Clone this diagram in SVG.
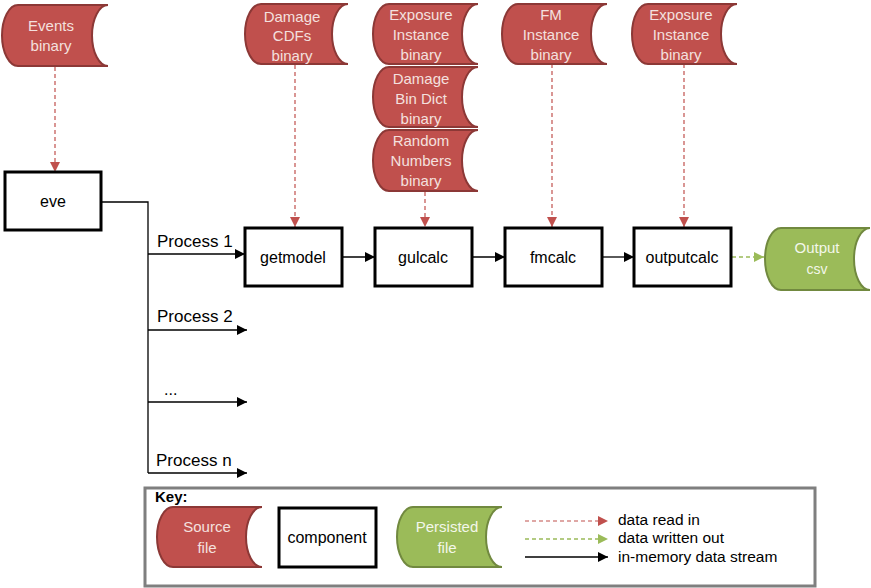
<svg xmlns="http://www.w3.org/2000/svg" width="871" height="588" viewBox="0 0 871 588">
<defs>
<style>
.src{fill:#C0504D;stroke:#8C3836;stroke-width:2}
.per{fill:#9BBB59;stroke:#71893F;stroke-width:2}
.box{fill:#fff;stroke:#000;stroke-width:3}
.st{font-family:"Liberation Sans",Arial,sans-serif;font-size:15px;fill:#F4E0DF;text-anchor:middle}
.gt{font-family:"Liberation Sans",Arial,sans-serif;font-size:15px;fill:#F3F7EA;text-anchor:middle}
.bt{font-family:"Liberation Sans",Arial,sans-serif;font-size:16px;fill:#000;text-anchor:middle}
.lb{font-family:"Liberation Sans",Arial,sans-serif;font-size:17px;fill:#000}
.kt{font-family:"Liberation Sans",Arial,sans-serif;font-size:15.5px;fill:#000}
.rd{stroke:#C0504D;stroke-width:1.2;stroke-dasharray:4,3;fill:none;marker-end:url(#ar)}
.gd{stroke:#9BBB59;stroke-width:1.5;stroke-dasharray:4,3;fill:none;marker-end:url(#ag)}
.bl{stroke:#000;stroke-width:1.3;fill:none;marker-end:url(#ab)}
.ln{stroke:#000;stroke-width:1.3;fill:none}
</style>
<marker id="ar" viewBox="0 0 10 10" refX="10" refY="5" markerWidth="10" markerHeight="10" markerUnits="userSpaceOnUse" orient="auto"><path d="M0,0 L10,5 L0,10 z" fill="#C0504D"/></marker>
<marker id="ag" viewBox="0 0 10 10" refX="10" refY="5" markerWidth="10" markerHeight="10" markerUnits="userSpaceOnUse" orient="auto"><path d="M0,0 L10,5 L0,10 z" fill="#9BBB59"/></marker>
<marker id="ab" viewBox="0 0 10 10" refX="10" refY="5" markerWidth="10" markerHeight="10" markerUnits="userSpaceOnUse" orient="auto"><path d="M0,0 L10,5 L0,10 z" fill="#000"/></marker>
</defs>
<rect width="871" height="588" fill="#fff"/>

<g id="connectors">
<path class="rd" d="M55,67 V172"/>
<path class="rd" d="M295,65 V227"/>
<path class="rd" d="M425,192 V227"/>
<path class="rd" d="M552,64 V227"/>
<path class="rd" d="M684,64 V227"/>
<path class="ln" d="M101,202 H148 V473"/>
<path class="bl" d="M148,254 H245"/>
<path class="bl" d="M148,330 H247"/>
<path class="bl" d="M148,402 H247"/>
<path class="bl" d="M148,473 H247"/>
<path class="bl" d="M342,257 H375"/>
<path class="bl" d="M472,257 H505"/>
<path class="bl" d="M602,257 H634"/>
<path class="gd" d="M732,257 H764"/>
</g>

<g id="events-binary">
<path class="src" d="M18,5 H108 A16,30.5 0 0 0 108,66 H18 A16,30.5 0 0 1 18,5 Z"/>
<text class="st" x="51" y="31">Events</text>
<text class="st" x="51" y="51">binary</text>
</g>
<g id="damage-cdfs-binary">
<path class="src" d="M261,4 H348 A16,30 0 0 0 348,64 H261 A16,30 0 0 1 261,4 Z"/>
<text class="st" x="292" y="22">Damage</text>
<text class="st" x="292" y="41">CDFs</text>
<text class="st" x="292" y="61">binary</text>
</g>
<g id="exposure-instance-binary-1">
<path class="src" d="M389,4 H478 A16,30 0 0 0 478,64 H389 A16,30 0 0 1 389,4 Z"/>
<text class="st" x="421" y="20">Exposure</text>
<text class="st" x="421" y="40">Instance</text>
<text class="st" x="421" y="60">binary</text>
</g>
<g id="damage-bin-dict-binary">
<path class="src" d="M389,67 H478 A16,30 0 0 0 478,127 H389 A16,30 0 0 1 389,67 Z"/>
<text class="st" x="421" y="84">Damage</text>
<text class="st" x="421" y="104">Bin Dict</text>
<text class="st" x="421" y="124">binary</text>
</g>
<g id="random-numbers-binary">
<path class="src" d="M389,130 H478 A16,30.5 0 0 0 478,191 H389 A16,30.5 0 0 1 389,130 Z"/>
<text class="st" x="421" y="146">Random</text>
<text class="st" x="421" y="166">Numbers</text>
<text class="st" x="421" y="186">binary</text>
</g>
<g id="fm-instance-binary">
<path class="src" d="M518,4 H607 A16,30 0 0 0 607,64 H518 A16,30 0 0 1 518,4 Z"/>
<text class="st" x="551" y="20">FM</text>
<text class="st" x="551" y="40">Instance</text>
<text class="st" x="551" y="60">binary</text>
</g>
<g id="exposure-instance-binary-2">
<path class="src" d="M648,4 H737 A16,30 0 0 0 737,64 H648 A16,30 0 0 1 648,4 Z"/>
<text class="st" x="681" y="20">Exposure</text>
<text class="st" x="681" y="40">Instance</text>
<text class="st" x="681" y="60">binary</text>
</g>

<g id="eve">
<rect class="box" x="5" y="172" width="96" height="58"/>
<text class="bt" x="53" y="207">eve</text>
</g>
<g id="getmodel">
<rect class="box" x="245" y="228" width="97" height="58"/>
<text class="bt" x="293" y="263">getmodel</text>
</g>
<g id="gulcalc">
<rect class="box" x="375" y="228" width="97" height="58"/>
<text class="bt" x="423" y="263">gulcalc</text>
</g>
<g id="fmcalc">
<rect class="box" x="505" y="228" width="97" height="58"/>
<text class="bt" x="553" y="263">fmcalc</text>
</g>
<g id="outputcalc">
<rect class="box" x="634" y="228" width="97" height="58"/>
<text class="bt" x="682" y="263">outputcalc</text>
</g>
<g id="output-csv">
<path class="per" d="M781,228 H870 A16,31 0 0 0 870,290 H781 A16,31 0 0 1 781,228 Z"/>
<text class="gt" x="817" y="253">Output</text>
<text class="gt" x="817" y="274" style="font-size:14px">csv</text>
</g>

<g id="process-labels">
<text class="lb" x="157" y="247">Process 1</text>
<text class="lb" x="157" y="322">Process 2</text>
<text class="lb" x="164" y="395" style="font-size:16px">...</text>
<text class="lb" x="156" y="466">Process n</text>
</g>

<g id="key">
<rect x="145" y="488" width="670" height="98" fill="#fff" stroke="#7F7F7F" stroke-width="3"/>
<text class="kt" x="155" y="502" style="font-weight:bold;font-size:15px">Key:</text>
<path class="src" d="M173,507 H262 A16,30 0 0 0 262,567 H173 A16,30 0 0 1 173,507 Z"/>
<text class="st" x="207" y="532">Source</text>
<text class="st" x="207" y="553">file</text>
<rect class="box" x="279" y="508" width="97" height="59"/>
<text class="bt" x="327" y="543">component</text>
<path class="per" d="M413,507 H502 A16,30 0 0 0 502,567 H413 A16,30 0 0 1 413,507 Z"/>
<text class="gt" x="447" y="532">Persisted</text>
<text class="gt" x="447" y="553">file</text>
<path class="rd" d="M525,521 H608"/>
<path class="gd" d="M525,539 H608"/>
<path class="bl" d="M525,557 H608"/>
<text class="kt" x="618" y="525">data read in</text>
<text class="kt" x="618" y="543">data written out</text>
<text class="kt" x="618" y="562">in-memory data stream</text>
</g>
</svg>
